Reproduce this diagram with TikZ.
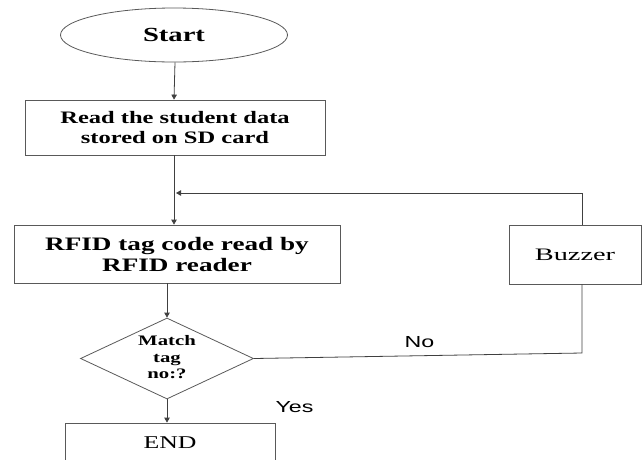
\documentclass[tikz,border=0pt]{standalone}
\usepackage{fontspec}
\setmainfont[FakeStretch=1.43]{Liberation Serif}
\newfontfamily\readfont[FakeStretch=1.4]{Liberation Serif}
\newfontfamily\buzzfont[FakeStretch=1.62]{Liberation Serif}
\newfontfamily\arialfont[FakeStretch=1.45]{Liberation Sans}
\usetikzlibrary{shapes.geometric,arrows.meta}
\tikzset{
  shp/.style={draw=black!65, line width=0.8pt, inner sep=0pt, align=center},
  boxnode/.style={shp, rectangle},
  conn/.style={draw=black!75, line width=0.8pt},
  arr/.style={conn, -{Triangle[length=5pt,width=5.5pt]}},
  lbl/.style={font=\arialfont\fontsize{16}{18}\selectfont, inner sep=0pt}
}
\begin{document}
\begin{tikzpicture}[x=1pt,y=-1pt]
\useasboundingbox (0,0) rectangle (643,459);
\node[shp, ellipse, minimum width=227pt, minimum height=54pt,
      font=\bfseries\fontsize{20}{24}\selectfont] (start) at (174,35) {Start};
\node[boxnode, minimum width=300pt, minimum height=55pt,
      font=\readfont\bfseries\fontsize{17.5}{20}\selectfont] (read) at (175,127.5)
      {Read the student data\\stored on SD card};
\node[boxnode, minimum width=326pt, minimum height=58pt,
      font=\bfseries\fontsize{19}{21}\selectfont] (rfid) at (177,254)
      {RFID tag code read by\\RFID reader};
\node[shp, diamond, minimum width=173pt, minimum height=81pt] (match) at (167,358.5) {};
\node[font=\bfseries\fontsize{14.5}{16.5}\selectfont, align=center, inner sep=0pt]
      (matchtxt) at ([yshift=1pt]match.center) {Match\\tag\\no:?};
\node[boxnode, minimum width=210pt, minimum height=40pt,
      font=\fontsize{18}{20}\selectfont] (end) at (170,443) {END};
\node[boxnode, minimum width=132pt, minimum height=59pt,
      font=\buzzfont\fontsize{17.5}{20}\selectfont, text depth=0pt] (buzzer) at (575,254.5) {Buzzer};
\coordinate (b1) at (582,193);
\coordinate (b2) at (582,353);
\draw[arr] (start.south -| read.north) -- (read.north -| start.south);
\draw[arr] (read.south -| start.south) -- (rfid.north -| start.south);
\draw[conn] (buzzer.north -| b1) -- (b1);
\draw[arr] (b1) -- ([xshift=2pt]start.south |- b1);
\draw[arr] (match.north |- rfid.south) -- (match.north);
\draw[arr] (match.south) -- (end.north -| match.south);
\draw[conn] (match.east) -- (b2) -- (buzzer.south -| b2);
\node[lbl] (no) at (419.5,342) {No};
\node[lbl] (yes) at (294.5,407) {Yes};
\end{tikzpicture}
\end{document}
